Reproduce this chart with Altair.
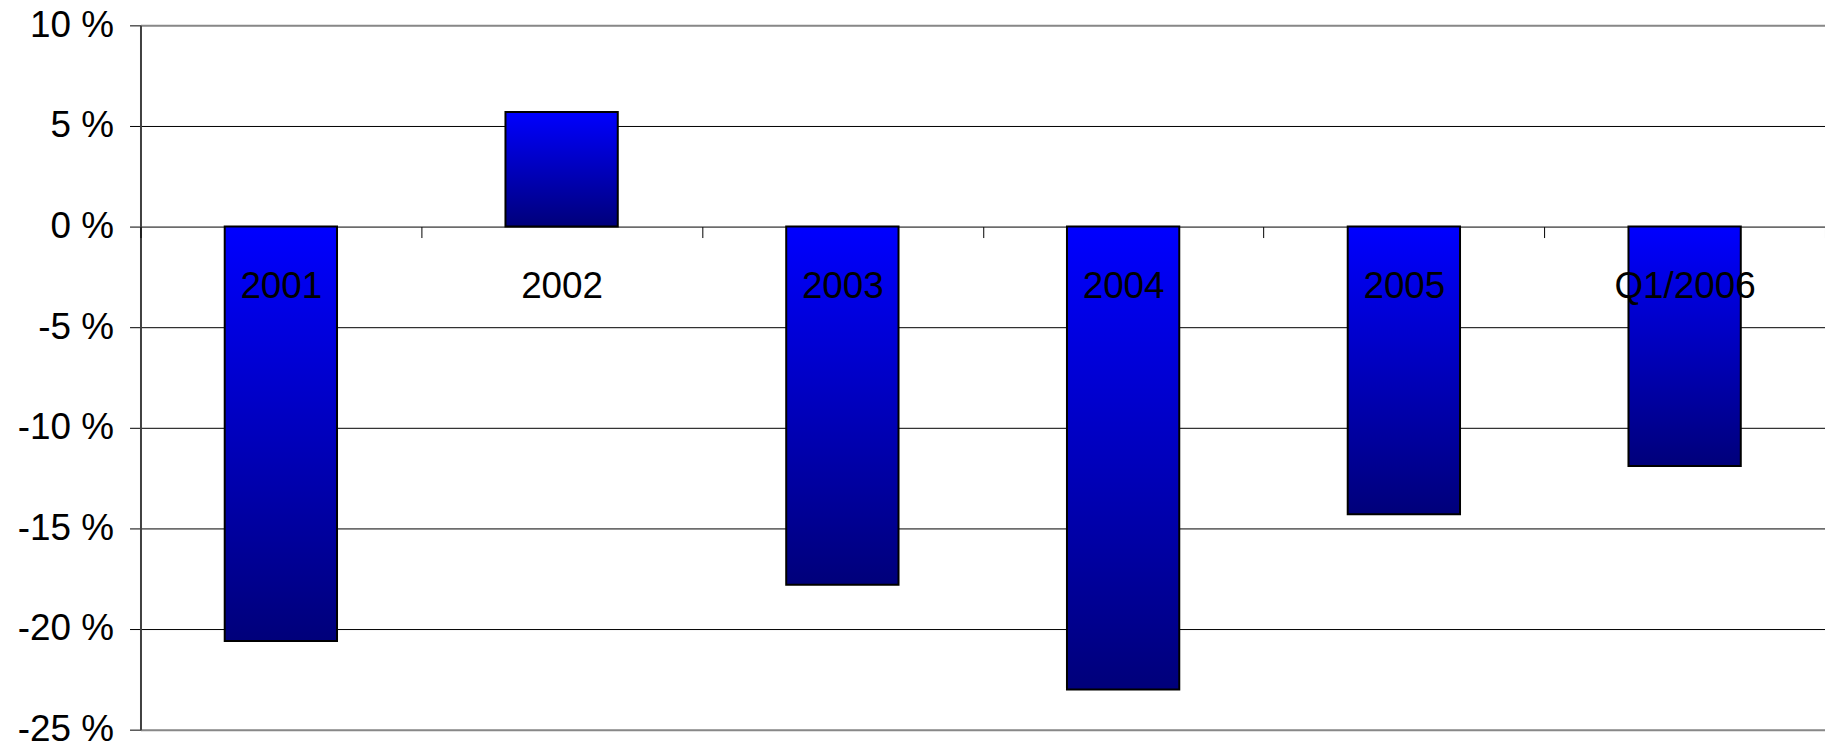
import altair as alt
import pandas as pd

periods = ["2001", "2002", "2003", "2004", "2005", "Q1/2006"]
values = [-20.6, 5.7, -17.8, -23.0, -14.3, -11.9]
y_ticks = [-25, -20, -15, -10, -5, 0, 5, 10]

df = pd.DataFrame({"period": periods, "value": values})

FONT = "Liberation Sans"
W, H = 1691, 707
zero_offset = -H * 25 / 35

gradient = {
    "gradient": "linear",
    "x1": 0, "y1": 0, "x2": 0, "y2": 1,
    "stops": [
        {"offset": 0, "color": "#0000FF"},
        {"offset": 1, "color": "#00007A"},
    ],
}

chart = (
    alt.Chart(df)
    .mark_bar(
        width=alt.RelativeBandSize(0.4),
        fill=gradient,
        stroke="black",
        strokeWidth=2,
    )
    .encode(
        x=alt.X(
            "period:N",
            sort=periods,
            scale=alt.Scale(paddingInner=0, paddingOuter=0),
            axis=alt.Axis(
                title=None,
                orient="bottom",
                offset=zero_offset,
                domain=False,
                ticks=True,
                tickBand="extent",
                tickSize=11,
                tickColor="black",
                tickWidth=1,
                labelAngle=0,
                labelFont=FONT,
                labelFontSize=37,
                labelColor="black",
                labelBaseline="middle",
                labelPadding=49,
                grid=False,
                zindex=1,
            ),
        ),
        y=alt.Y(
            "value:Q",
            scale=alt.Scale(domain=[-25, 10], nice=False, zero=False),
            axis=alt.Axis(
                title=None,
                values=y_ticks,
                labelExpr="datum.value + ' %'",
                labelFont=FONT,
                labelFontSize=37,
                labelColor="black",
                labelPadding=16,
                tickSize=11,
                tickColor="black",
                tickWidth=1,
                domainColor="#404040",
                domainWidth=2,
                grid=True,
                gridColor={
                    "condition": {
                        "test": "datum.value === 10 || datum.value === -25",
                        "value": "#888888",
                    },
                    "value": "black",
                },
                gridWidth={
                    "condition": {
                        "test": "datum.value === 10 || datum.value === -25",
                        "value": 2,
                    },
                    "value": 1,
                },
                gridOpacity=1,
            ),
        ),
    )
    .properties(
        width=W,
        height=H,
        autosize=alt.AutoSizeParams(type="none"),
        padding={"left": 133, "top": 16, "right": 0, "bottom": 20},
    )
    .configure_view(stroke="#888888", strokeWidth=2)
    .configure(background="white")
)

chart.save("out.html", embed_options={"renderer": "svg", "actions": False})
